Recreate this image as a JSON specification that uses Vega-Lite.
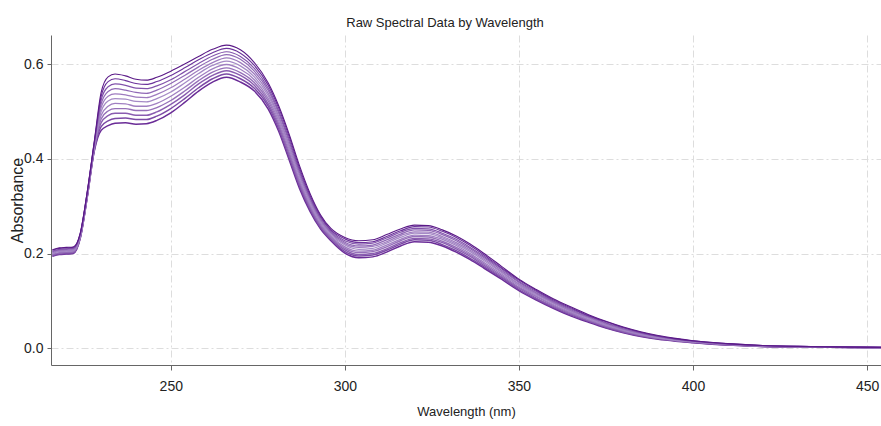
{
"$schema":"https://vega.github.io/schema/vega-lite/v6.json",
"width":830,"height":330,
"autosize":{"type":"none"},
"padding":{"left":51,"top":35,"right":0,"bottom":61},
"background":"white",
"title":{"text":"Raw Spectral Data by Wavelength","font":"Liberation Sans","fontSize":13,"fontWeight":"normal","color":"#222","anchor":"middle","dx":-21,"dy":16,"baseline":"alphabetic","offset":11},
"config":{"view":{"stroke":null}},
"datasets":{"rows":[
{"w":216,"s":0,"a":0.194},{"w":216,"s":1,"a":0.195},{"w":216,"s":2,"a":0.197},{"w":216,"s":3,"a":0.198},{"w":216,"s":4,"a":0.200},{"w":216,"s":5,"a":0.201},{"w":216,"s":6,"a":0.202},{"w":216,"s":7,"a":0.204},{"w":216,"s":8,"a":0.205},{"w":216,"s":9,"a":0.207},{"w":216,"s":10,"a":0.208},
{"w":218,"s":0,"a":0.198},{"w":218,"s":1,"a":0.199},{"w":218,"s":2,"a":0.201},{"w":218,"s":3,"a":0.202},{"w":218,"s":4,"a":0.204},{"w":218,"s":5,"a":0.205},{"w":218,"s":6,"a":0.206},{"w":218,"s":7,"a":0.208},{"w":218,"s":8,"a":0.209},{"w":218,"s":9,"a":0.211},{"w":218,"s":10,"a":0.212},
{"w":220,"s":0,"a":0.199},{"w":220,"s":1,"a":0.200},{"w":220,"s":2,"a":0.202},{"w":220,"s":3,"a":0.203},{"w":220,"s":4,"a":0.205},{"w":220,"s":5,"a":0.206},{"w":220,"s":6,"a":0.207},{"w":220,"s":7,"a":0.209},{"w":220,"s":8,"a":0.210},{"w":220,"s":9,"a":0.212},{"w":220,"s":10,"a":0.213},
{"w":222,"s":0,"a":0.200},{"w":222,"s":1,"a":0.201},{"w":222,"s":2,"a":0.203},{"w":222,"s":3,"a":0.204},{"w":222,"s":4,"a":0.206},{"w":222,"s":5,"a":0.207},{"w":222,"s":6,"a":0.208},{"w":222,"s":7,"a":0.210},{"w":222,"s":8,"a":0.211},{"w":222,"s":9,"a":0.213},{"w":222,"s":10,"a":0.214},
{"w":224,"s":0,"a":0.232},{"w":224,"s":1,"a":0.233},{"w":224,"s":2,"a":0.234},{"w":224,"s":3,"a":0.235},{"w":224,"s":4,"a":0.236},{"w":224,"s":5,"a":0.238},{"w":224,"s":6,"a":0.239},{"w":224,"s":7,"a":0.240},{"w":224,"s":8,"a":0.241},{"w":224,"s":9,"a":0.242},{"w":224,"s":10,"a":0.243},
{"w":226,"s":0,"a":0.318},{"w":226,"s":1,"a":0.319},{"w":226,"s":2,"a":0.320},{"w":226,"s":3,"a":0.322},{"w":226,"s":4,"a":0.323},{"w":226,"s":5,"a":0.324},{"w":226,"s":6,"a":0.325},{"w":226,"s":7,"a":0.326},{"w":226,"s":8,"a":0.328},{"w":226,"s":9,"a":0.329},{"w":226,"s":10,"a":0.330},
{"w":228,"s":0,"a":0.415},{"w":228,"s":1,"a":0.417},{"w":228,"s":2,"a":0.419},{"w":228,"s":3,"a":0.421},{"w":228,"s":4,"a":0.423},{"w":228,"s":5,"a":0.425},{"w":228,"s":6,"a":0.427},{"w":228,"s":7,"a":0.429},{"w":228,"s":8,"a":0.431},{"w":228,"s":9,"a":0.433},{"w":228,"s":10,"a":0.435},
{"w":230,"s":0,"a":0.460},{"w":230,"s":1,"a":0.468},{"w":230,"s":2,"a":0.476},{"w":230,"s":3,"a":0.484},{"w":230,"s":4,"a":0.492},{"w":230,"s":5,"a":0.500},{"w":230,"s":6,"a":0.508},{"w":230,"s":7,"a":0.516},{"w":230,"s":8,"a":0.524},{"w":230,"s":9,"a":0.532},{"w":230,"s":10,"a":0.540},
{"w":232,"s":0,"a":0.470},{"w":232,"s":1,"a":0.480},{"w":232,"s":2,"a":0.491},{"w":232,"s":3,"a":0.501},{"w":232,"s":4,"a":0.511},{"w":232,"s":5,"a":0.522},{"w":232,"s":6,"a":0.532},{"w":232,"s":7,"a":0.542},{"w":232,"s":8,"a":0.552},{"w":232,"s":9,"a":0.563},{"w":232,"s":10,"a":0.573},
{"w":234,"s":0,"a":0.475},{"w":234,"s":1,"a":0.485},{"w":234,"s":2,"a":0.496},{"w":234,"s":3,"a":0.506},{"w":234,"s":4,"a":0.517},{"w":234,"s":5,"a":0.527},{"w":234,"s":6,"a":0.537},{"w":234,"s":7,"a":0.548},{"w":234,"s":8,"a":0.558},{"w":234,"s":9,"a":0.569},{"w":234,"s":10,"a":0.579},
{"w":237,"s":0,"a":0.476},{"w":237,"s":1,"a":0.486},{"w":237,"s":2,"a":0.496},{"w":237,"s":3,"a":0.506},{"w":237,"s":4,"a":0.516},{"w":237,"s":5,"a":0.526},{"w":237,"s":6,"a":0.535},{"w":237,"s":7,"a":0.545},{"w":237,"s":8,"a":0.555},{"w":237,"s":9,"a":0.565},{"w":237,"s":10,"a":0.575},
{"w":240,"s":0,"a":0.473},{"w":240,"s":1,"a":0.483},{"w":240,"s":2,"a":0.492},{"w":240,"s":3,"a":0.502},{"w":240,"s":4,"a":0.511},{"w":240,"s":5,"a":0.521},{"w":240,"s":6,"a":0.530},{"w":240,"s":7,"a":0.540},{"w":240,"s":8,"a":0.549},{"w":240,"s":9,"a":0.559},{"w":240,"s":10,"a":0.568},
{"w":243,"s":0,"a":0.474},{"w":243,"s":1,"a":0.483},{"w":243,"s":2,"a":0.492},{"w":243,"s":3,"a":0.502},{"w":243,"s":4,"a":0.511},{"w":243,"s":5,"a":0.520},{"w":243,"s":6,"a":0.529},{"w":243,"s":7,"a":0.538},{"w":243,"s":8,"a":0.548},{"w":243,"s":9,"a":0.557},{"w":243,"s":10,"a":0.566},
{"w":246,"s":0,"a":0.481},{"w":246,"s":1,"a":0.490},{"w":246,"s":2,"a":0.499},{"w":246,"s":3,"a":0.508},{"w":246,"s":4,"a":0.517},{"w":246,"s":5,"a":0.527},{"w":246,"s":6,"a":0.536},{"w":246,"s":7,"a":0.545},{"w":246,"s":8,"a":0.554},{"w":246,"s":9,"a":0.563},{"w":246,"s":10,"a":0.572},
{"w":250,"s":0,"a":0.497},{"w":250,"s":1,"a":0.506},{"w":250,"s":2,"a":0.515},{"w":250,"s":3,"a":0.523},{"w":250,"s":4,"a":0.532},{"w":250,"s":5,"a":0.541},{"w":250,"s":6,"a":0.550},{"w":250,"s":7,"a":0.559},{"w":250,"s":8,"a":0.567},{"w":250,"s":9,"a":0.576},{"w":250,"s":10,"a":0.585},
{"w":254,"s":0,"a":0.519},{"w":254,"s":1,"a":0.527},{"w":254,"s":2,"a":0.535},{"w":254,"s":3,"a":0.543},{"w":254,"s":4,"a":0.551},{"w":254,"s":5,"a":0.560},{"w":254,"s":6,"a":0.568},{"w":254,"s":7,"a":0.576},{"w":254,"s":8,"a":0.584},{"w":254,"s":9,"a":0.592},{"w":254,"s":10,"a":0.600},
{"w":258,"s":0,"a":0.543},{"w":258,"s":1,"a":0.550},{"w":258,"s":2,"a":0.558},{"w":258,"s":3,"a":0.565},{"w":258,"s":4,"a":0.572},{"w":258,"s":5,"a":0.580},{"w":258,"s":6,"a":0.587},{"w":258,"s":7,"a":0.594},{"w":258,"s":8,"a":0.601},{"w":258,"s":9,"a":0.609},{"w":258,"s":10,"a":0.616},
{"w":262,"s":0,"a":0.562},{"w":262,"s":1,"a":0.569},{"w":262,"s":2,"a":0.576},{"w":262,"s":3,"a":0.583},{"w":262,"s":4,"a":0.590},{"w":262,"s":5,"a":0.597},{"w":262,"s":6,"a":0.603},{"w":262,"s":7,"a":0.610},{"w":262,"s":8,"a":0.617},{"w":262,"s":9,"a":0.624},{"w":262,"s":10,"a":0.631},
{"w":266,"s":0,"a":0.572},{"w":266,"s":1,"a":0.579},{"w":266,"s":2,"a":0.586},{"w":266,"s":3,"a":0.592},{"w":266,"s":4,"a":0.599},{"w":266,"s":5,"a":0.606},{"w":266,"s":6,"a":0.613},{"w":266,"s":7,"a":0.620},{"w":266,"s":8,"a":0.626},{"w":266,"s":9,"a":0.633},{"w":266,"s":10,"a":0.640},
{"w":270,"s":0,"a":0.562},{"w":270,"s":1,"a":0.569},{"w":270,"s":2,"a":0.576},{"w":270,"s":3,"a":0.582},{"w":270,"s":4,"a":0.589},{"w":270,"s":5,"a":0.596},{"w":270,"s":6,"a":0.603},{"w":270,"s":7,"a":0.610},{"w":270,"s":8,"a":0.616},{"w":270,"s":9,"a":0.623},{"w":270,"s":10,"a":0.630},
{"w":274,"s":0,"a":0.543},{"w":274,"s":1,"a":0.549},{"w":274,"s":2,"a":0.555},{"w":274,"s":3,"a":0.561},{"w":274,"s":4,"a":0.567},{"w":274,"s":5,"a":0.573},{"w":274,"s":6,"a":0.579},{"w":274,"s":7,"a":0.585},{"w":274,"s":8,"a":0.591},{"w":274,"s":9,"a":0.597},{"w":274,"s":10,"a":0.603},
{"w":278,"s":0,"a":0.505},{"w":278,"s":1,"a":0.511},{"w":278,"s":2,"a":0.516},{"w":278,"s":3,"a":0.522},{"w":278,"s":4,"a":0.527},{"w":278,"s":5,"a":0.533},{"w":278,"s":6,"a":0.538},{"w":278,"s":7,"a":0.544},{"w":278,"s":8,"a":0.549},{"w":278,"s":9,"a":0.555},{"w":278,"s":10,"a":0.560},
{"w":281,"s":0,"a":0.458},{"w":281,"s":1,"a":0.463},{"w":281,"s":2,"a":0.469},{"w":281,"s":3,"a":0.474},{"w":281,"s":4,"a":0.480},{"w":281,"s":5,"a":0.485},{"w":281,"s":6,"a":0.490},{"w":281,"s":7,"a":0.496},{"w":281,"s":8,"a":0.501},{"w":281,"s":9,"a":0.507},{"w":281,"s":10,"a":0.512},
{"w":284,"s":0,"a":0.398},{"w":284,"s":1,"a":0.403},{"w":284,"s":2,"a":0.409},{"w":284,"s":3,"a":0.414},{"w":284,"s":4,"a":0.420},{"w":284,"s":5,"a":0.425},{"w":284,"s":6,"a":0.430},{"w":284,"s":7,"a":0.436},{"w":284,"s":8,"a":0.441},{"w":284,"s":9,"a":0.447},{"w":284,"s":10,"a":0.452},
{"w":287,"s":0,"a":0.337},{"w":287,"s":1,"a":0.342},{"w":287,"s":2,"a":0.347},{"w":287,"s":3,"a":0.351},{"w":287,"s":4,"a":0.356},{"w":287,"s":5,"a":0.361},{"w":287,"s":6,"a":0.366},{"w":287,"s":7,"a":0.371},{"w":287,"s":8,"a":0.375},{"w":287,"s":9,"a":0.380},{"w":287,"s":10,"a":0.385},
{"w":290,"s":0,"a":0.289},{"w":290,"s":1,"a":0.293},{"w":290,"s":2,"a":0.297},{"w":290,"s":3,"a":0.300},{"w":290,"s":4,"a":0.304},{"w":290,"s":5,"a":0.308},{"w":290,"s":6,"a":0.312},{"w":290,"s":7,"a":0.316},{"w":290,"s":8,"a":0.319},{"w":290,"s":9,"a":0.323},{"w":290,"s":10,"a":0.327},
{"w":293,"s":0,"a":0.252},{"w":293,"s":1,"a":0.255},{"w":293,"s":2,"a":0.258},{"w":293,"s":3,"a":0.261},{"w":293,"s":4,"a":0.264},{"w":293,"s":5,"a":0.267},{"w":293,"s":6,"a":0.270},{"w":293,"s":7,"a":0.273},{"w":293,"s":8,"a":0.276},{"w":293,"s":9,"a":0.279},{"w":293,"s":10,"a":0.282},
{"w":296,"s":0,"a":0.227},{"w":296,"s":1,"a":0.230},{"w":296,"s":2,"a":0.232},{"w":296,"s":3,"a":0.235},{"w":296,"s":4,"a":0.237},{"w":296,"s":5,"a":0.240},{"w":296,"s":6,"a":0.243},{"w":296,"s":7,"a":0.245},{"w":296,"s":8,"a":0.248},{"w":296,"s":9,"a":0.250},{"w":296,"s":10,"a":0.253},
{"w":300,"s":0,"a":0.201},{"w":300,"s":1,"a":0.204},{"w":300,"s":2,"a":0.208},{"w":300,"s":3,"a":0.211},{"w":300,"s":4,"a":0.214},{"w":300,"s":5,"a":0.218},{"w":300,"s":6,"a":0.221},{"w":300,"s":7,"a":0.224},{"w":300,"s":8,"a":0.227},{"w":300,"s":9,"a":0.231},{"w":300,"s":10,"a":0.234},
{"w":304,"s":0,"a":0.191},{"w":304,"s":1,"a":0.195},{"w":304,"s":2,"a":0.198},{"w":304,"s":3,"a":0.202},{"w":304,"s":4,"a":0.205},{"w":304,"s":5,"a":0.209},{"w":304,"s":6,"a":0.213},{"w":304,"s":7,"a":0.216},{"w":304,"s":8,"a":0.220},{"w":304,"s":9,"a":0.223},{"w":304,"s":10,"a":0.227},
{"w":308,"s":0,"a":0.193},{"w":308,"s":1,"a":0.197},{"w":308,"s":2,"a":0.200},{"w":308,"s":3,"a":0.204},{"w":308,"s":4,"a":0.207},{"w":308,"s":5,"a":0.211},{"w":308,"s":6,"a":0.215},{"w":308,"s":7,"a":0.218},{"w":308,"s":8,"a":0.222},{"w":308,"s":9,"a":0.225},{"w":308,"s":10,"a":0.229},
{"w":312,"s":0,"a":0.203},{"w":312,"s":1,"a":0.207},{"w":312,"s":2,"a":0.210},{"w":312,"s":3,"a":0.214},{"w":312,"s":4,"a":0.218},{"w":312,"s":5,"a":0.222},{"w":312,"s":6,"a":0.225},{"w":312,"s":7,"a":0.229},{"w":312,"s":8,"a":0.233},{"w":312,"s":9,"a":0.236},{"w":312,"s":10,"a":0.240},
{"w":316,"s":0,"a":0.216},{"w":316,"s":1,"a":0.220},{"w":316,"s":2,"a":0.223},{"w":316,"s":3,"a":0.227},{"w":316,"s":4,"a":0.230},{"w":316,"s":5,"a":0.234},{"w":316,"s":6,"a":0.238},{"w":316,"s":7,"a":0.241},{"w":316,"s":8,"a":0.245},{"w":316,"s":9,"a":0.248},{"w":316,"s":10,"a":0.252},
{"w":320,"s":0,"a":0.225},{"w":320,"s":1,"a":0.229},{"w":320,"s":2,"a":0.232},{"w":320,"s":3,"a":0.236},{"w":320,"s":4,"a":0.239},{"w":320,"s":5,"a":0.243},{"w":320,"s":6,"a":0.246},{"w":320,"s":7,"a":0.250},{"w":320,"s":8,"a":0.253},{"w":320,"s":9,"a":0.257},{"w":320,"s":10,"a":0.260},
{"w":324,"s":0,"a":0.224},{"w":324,"s":1,"a":0.228},{"w":324,"s":2,"a":0.231},{"w":324,"s":3,"a":0.235},{"w":324,"s":4,"a":0.238},{"w":324,"s":5,"a":0.242},{"w":324,"s":6,"a":0.245},{"w":324,"s":7,"a":0.249},{"w":324,"s":8,"a":0.252},{"w":324,"s":9,"a":0.256},{"w":324,"s":10,"a":0.259},
{"w":328,"s":0,"a":0.216},{"w":328,"s":1,"a":0.219},{"w":328,"s":2,"a":0.223},{"w":328,"s":3,"a":0.226},{"w":328,"s":4,"a":0.230},{"w":328,"s":5,"a":0.233},{"w":328,"s":6,"a":0.236},{"w":328,"s":7,"a":0.240},{"w":328,"s":8,"a":0.243},{"w":328,"s":9,"a":0.247},{"w":328,"s":10,"a":0.250},
{"w":332,"s":0,"a":0.203},{"w":332,"s":1,"a":0.206},{"w":332,"s":2,"a":0.210},{"w":332,"s":3,"a":0.213},{"w":332,"s":4,"a":0.217},{"w":332,"s":5,"a":0.220},{"w":332,"s":6,"a":0.223},{"w":332,"s":7,"a":0.227},{"w":332,"s":8,"a":0.230},{"w":332,"s":9,"a":0.234},{"w":332,"s":10,"a":0.237},
{"w":336,"s":0,"a":0.187},{"w":336,"s":1,"a":0.190},{"w":336,"s":2,"a":0.194},{"w":336,"s":3,"a":0.197},{"w":336,"s":4,"a":0.200},{"w":336,"s":5,"a":0.204},{"w":336,"s":6,"a":0.207},{"w":336,"s":7,"a":0.210},{"w":336,"s":8,"a":0.213},{"w":336,"s":9,"a":0.217},{"w":336,"s":10,"a":0.220},
{"w":340,"s":0,"a":0.169},{"w":340,"s":1,"a":0.172},{"w":340,"s":2,"a":0.175},{"w":340,"s":3,"a":0.178},{"w":340,"s":4,"a":0.181},{"w":340,"s":5,"a":0.185},{"w":340,"s":6,"a":0.188},{"w":340,"s":7,"a":0.191},{"w":340,"s":8,"a":0.194},{"w":340,"s":9,"a":0.197},{"w":340,"s":10,"a":0.200},
{"w":345,"s":0,"a":0.146},{"w":345,"s":1,"a":0.149},{"w":345,"s":2,"a":0.151},{"w":345,"s":3,"a":0.154},{"w":345,"s":4,"a":0.157},{"w":345,"s":5,"a":0.160},{"w":345,"s":6,"a":0.162},{"w":345,"s":7,"a":0.165},{"w":345,"s":8,"a":0.168},{"w":345,"s":9,"a":0.170},{"w":345,"s":10,"a":0.173},
{"w":350,"s":0,"a":0.122},{"w":350,"s":1,"a":0.124},{"w":350,"s":2,"a":0.127},{"w":350,"s":3,"a":0.129},{"w":350,"s":4,"a":0.132},{"w":350,"s":5,"a":0.134},{"w":350,"s":6,"a":0.136},{"w":350,"s":7,"a":0.139},{"w":350,"s":8,"a":0.141},{"w":350,"s":9,"a":0.144},{"w":350,"s":10,"a":0.146},
{"w":355,"s":0,"a":0.102},{"w":355,"s":1,"a":0.104},{"w":355,"s":2,"a":0.106},{"w":355,"s":3,"a":0.109},{"w":355,"s":4,"a":0.111},{"w":355,"s":5,"a":0.113},{"w":355,"s":6,"a":0.115},{"w":355,"s":7,"a":0.117},{"w":355,"s":8,"a":0.120},{"w":355,"s":9,"a":0.122},{"w":355,"s":10,"a":0.124},
{"w":360,"s":0,"a":0.084},{"w":360,"s":1,"a":0.086},{"w":360,"s":2,"a":0.088},{"w":360,"s":3,"a":0.090},{"w":360,"s":4,"a":0.092},{"w":360,"s":5,"a":0.094},{"w":360,"s":6,"a":0.096},{"w":360,"s":7,"a":0.098},{"w":360,"s":8,"a":0.100},{"w":360,"s":9,"a":0.102},{"w":360,"s":10,"a":0.104},
{"w":365,"s":0,"a":0.068},{"w":365,"s":1,"a":0.070},{"w":365,"s":2,"a":0.072},{"w":365,"s":3,"a":0.074},{"w":365,"s":4,"a":0.076},{"w":365,"s":5,"a":0.078},{"w":365,"s":6,"a":0.079},{"w":365,"s":7,"a":0.081},{"w":365,"s":8,"a":0.083},{"w":365,"s":9,"a":0.085},{"w":365,"s":10,"a":0.087},
{"w":370,"s":0,"a":0.055},{"w":370,"s":1,"a":0.057},{"w":370,"s":2,"a":0.058},{"w":370,"s":3,"a":0.060},{"w":370,"s":4,"a":0.061},{"w":370,"s":5,"a":0.063},{"w":370,"s":6,"a":0.065},{"w":370,"s":7,"a":0.066},{"w":370,"s":8,"a":0.068},{"w":370,"s":9,"a":0.069},{"w":370,"s":10,"a":0.071},
{"w":375,"s":0,"a":0.043},{"w":375,"s":1,"a":0.044},{"w":375,"s":2,"a":0.046},{"w":375,"s":3,"a":0.047},{"w":375,"s":4,"a":0.049},{"w":375,"s":5,"a":0.050},{"w":375,"s":6,"a":0.051},{"w":375,"s":7,"a":0.053},{"w":375,"s":8,"a":0.054},{"w":375,"s":9,"a":0.056},{"w":375,"s":10,"a":0.057},
{"w":380,"s":0,"a":0.033},{"w":380,"s":1,"a":0.034},{"w":380,"s":2,"a":0.035},{"w":380,"s":3,"a":0.037},{"w":380,"s":4,"a":0.038},{"w":380,"s":5,"a":0.039},{"w":380,"s":6,"a":0.040},{"w":380,"s":7,"a":0.041},{"w":380,"s":8,"a":0.043},{"w":380,"s":9,"a":0.044},{"w":380,"s":10,"a":0.045},
{"w":385,"s":0,"a":0.025},{"w":385,"s":1,"a":0.026},{"w":385,"s":2,"a":0.027},{"w":385,"s":3,"a":0.028},{"w":385,"s":4,"a":0.029},{"w":385,"s":5,"a":0.030},{"w":385,"s":6,"a":0.031},{"w":385,"s":7,"a":0.032},{"w":385,"s":8,"a":0.033},{"w":385,"s":9,"a":0.034},{"w":385,"s":10,"a":0.035},
{"w":390,"s":0,"a":0.019},{"w":390,"s":1,"a":0.020},{"w":390,"s":2,"a":0.021},{"w":390,"s":3,"a":0.021},{"w":390,"s":4,"a":0.022},{"w":390,"s":5,"a":0.023},{"w":390,"s":6,"a":0.024},{"w":390,"s":7,"a":0.025},{"w":390,"s":8,"a":0.025},{"w":390,"s":9,"a":0.026},{"w":390,"s":10,"a":0.027},
{"w":395,"s":0,"a":0.015},{"w":395,"s":1,"a":0.016},{"w":395,"s":2,"a":0.016},{"w":395,"s":3,"a":0.017},{"w":395,"s":4,"a":0.017},{"w":395,"s":5,"a":0.018},{"w":395,"s":6,"a":0.019},{"w":395,"s":7,"a":0.019},{"w":395,"s":8,"a":0.020},{"w":395,"s":9,"a":0.020},{"w":395,"s":10,"a":0.021},
{"w":400,"s":0,"a":0.012},{"w":400,"s":1,"a":0.012},{"w":400,"s":2,"a":0.013},{"w":400,"s":3,"a":0.013},{"w":400,"s":4,"a":0.014},{"w":400,"s":5,"a":0.014},{"w":400,"s":6,"a":0.014},{"w":400,"s":7,"a":0.015},{"w":400,"s":8,"a":0.015},{"w":400,"s":9,"a":0.016},{"w":400,"s":10,"a":0.016},
{"w":410,"s":0,"a":0.007},{"w":410,"s":1,"a":0.007},{"w":410,"s":2,"a":0.008},{"w":410,"s":3,"a":0.008},{"w":410,"s":4,"a":0.008},{"w":410,"s":5,"a":0.009},{"w":410,"s":6,"a":0.009},{"w":410,"s":7,"a":0.009},{"w":410,"s":8,"a":0.009},{"w":410,"s":9,"a":0.010},{"w":410,"s":10,"a":0.010},
{"w":420,"s":0,"a":0.004},{"w":420,"s":1,"a":0.004},{"w":420,"s":2,"a":0.004},{"w":420,"s":3,"a":0.005},{"w":420,"s":4,"a":0.005},{"w":420,"s":5,"a":0.005},{"w":420,"s":6,"a":0.005},{"w":420,"s":7,"a":0.005},{"w":420,"s":8,"a":0.006},{"w":420,"s":9,"a":0.006},{"w":420,"s":10,"a":0.006},
{"w":430,"s":0,"a":0.003},{"w":430,"s":1,"a":0.003},{"w":430,"s":2,"a":0.003},{"w":430,"s":3,"a":0.003},{"w":430,"s":4,"a":0.003},{"w":430,"s":5,"a":0.004},{"w":430,"s":6,"a":0.004},{"w":430,"s":7,"a":0.004},{"w":430,"s":8,"a":0.004},{"w":430,"s":9,"a":0.004},{"w":430,"s":10,"a":0.004},
{"w":440,"s":0,"a":0.002},{"w":440,"s":1,"a":0.002},{"w":440,"s":2,"a":0.002},{"w":440,"s":3,"a":0.002},{"w":440,"s":4,"a":0.002},{"w":440,"s":5,"a":0.003},{"w":440,"s":6,"a":0.003},{"w":440,"s":7,"a":0.003},{"w":440,"s":8,"a":0.003},{"w":440,"s":9,"a":0.003},{"w":440,"s":10,"a":0.003},
{"w":454,"s":0,"a":0.001},{"w":454,"s":1,"a":0.001},{"w":454,"s":2,"a":0.001},{"w":454,"s":3,"a":0.001},{"w":454,"s":4,"a":0.001},{"w":454,"s":5,"a":0.002},{"w":454,"s":6,"a":0.002},{"w":454,"s":7,"a":0.002},{"w":454,"s":8,"a":0.002},{"w":454,"s":9,"a":0.002},{"w":454,"s":10,"a":0.002}
]},
"layer":[
{"data":{"name":"rows"},
"mark":{"type":"line","interpolate":"monotone","clip":true},
"encoding":{
"x":{"field":"w","type":"quantitative","scale":{"domain":[215.6,454],"nice":false,"zero":false},
"axis":{"values":[250,300,350,400,450],"title":"Wavelength (nm)","grid":true,"gridColor":"#dddddd","gridDash":[7,3,2,3],"gridWidth":1,"domainColor":"#666666","tickColor":"#666666","tickSize":5,"labelFont":"Liberation Sans","labelFontSize":14,"labelColor":"#222222","labelPadding":9,"titleFont":"Liberation Sans","titleFontSize":13,"titleFontWeight":"normal","titleColor":"#222222","titlePadding":12}},
"y":{"field":"a","type":"quantitative","scale":{"domain":[-0.0352,0.6613],"nice":false,"zero":false},
"axis":{"values":[0,0.2,0.4,0.6],"format":".1f","title":"Absorbance","grid":true,"gridColor":"#dddddd","gridDash":[7,3,2,3],"gridWidth":1,"domainColor":"#666666","tickColor":"#666666","tickSize":4,"labelFont":"Liberation Sans","labelFontSize":14,"labelColor":"#222222","labelPadding":4,"titleFont":"Liberation Sans","titleFontSize":16,"titleFontWeight":"normal","titleColor":"#222222","titleAngle":-90,"titleX":-34,"titleY":165,"titleBaseline":"middle","titleAlign":"center"}},
"detail":{"field":"s","type":"ordinal"},
"color":{"field":"s","type":"ordinal","legend":null,"scale":{"domain":[0,1,2,3,4,5,6,7,8,9,10],"range":["#6a2c97","#7c4aa6","#8a5db0","#9670b9","#a07fc1","#a58ac6","#9e7bbf","#9069b6","#8253ab","#6c339c","#5a1987"]}},
"strokeWidth":{"field":"s","type":"ordinal","legend":null,"scale":{"domain":[0,1,2,3,4,5,6,7,8,9,10],"range":[1.5,1.1,1.1,1.1,1.1,1.1,1.1,1.1,1.1,1.6,3.2]}}
}},
{"mark":{"type":"rule","color":"#555555","strokeWidth":1},
"encoding":{"y":{"datum":-0.0235}}}
]
}
